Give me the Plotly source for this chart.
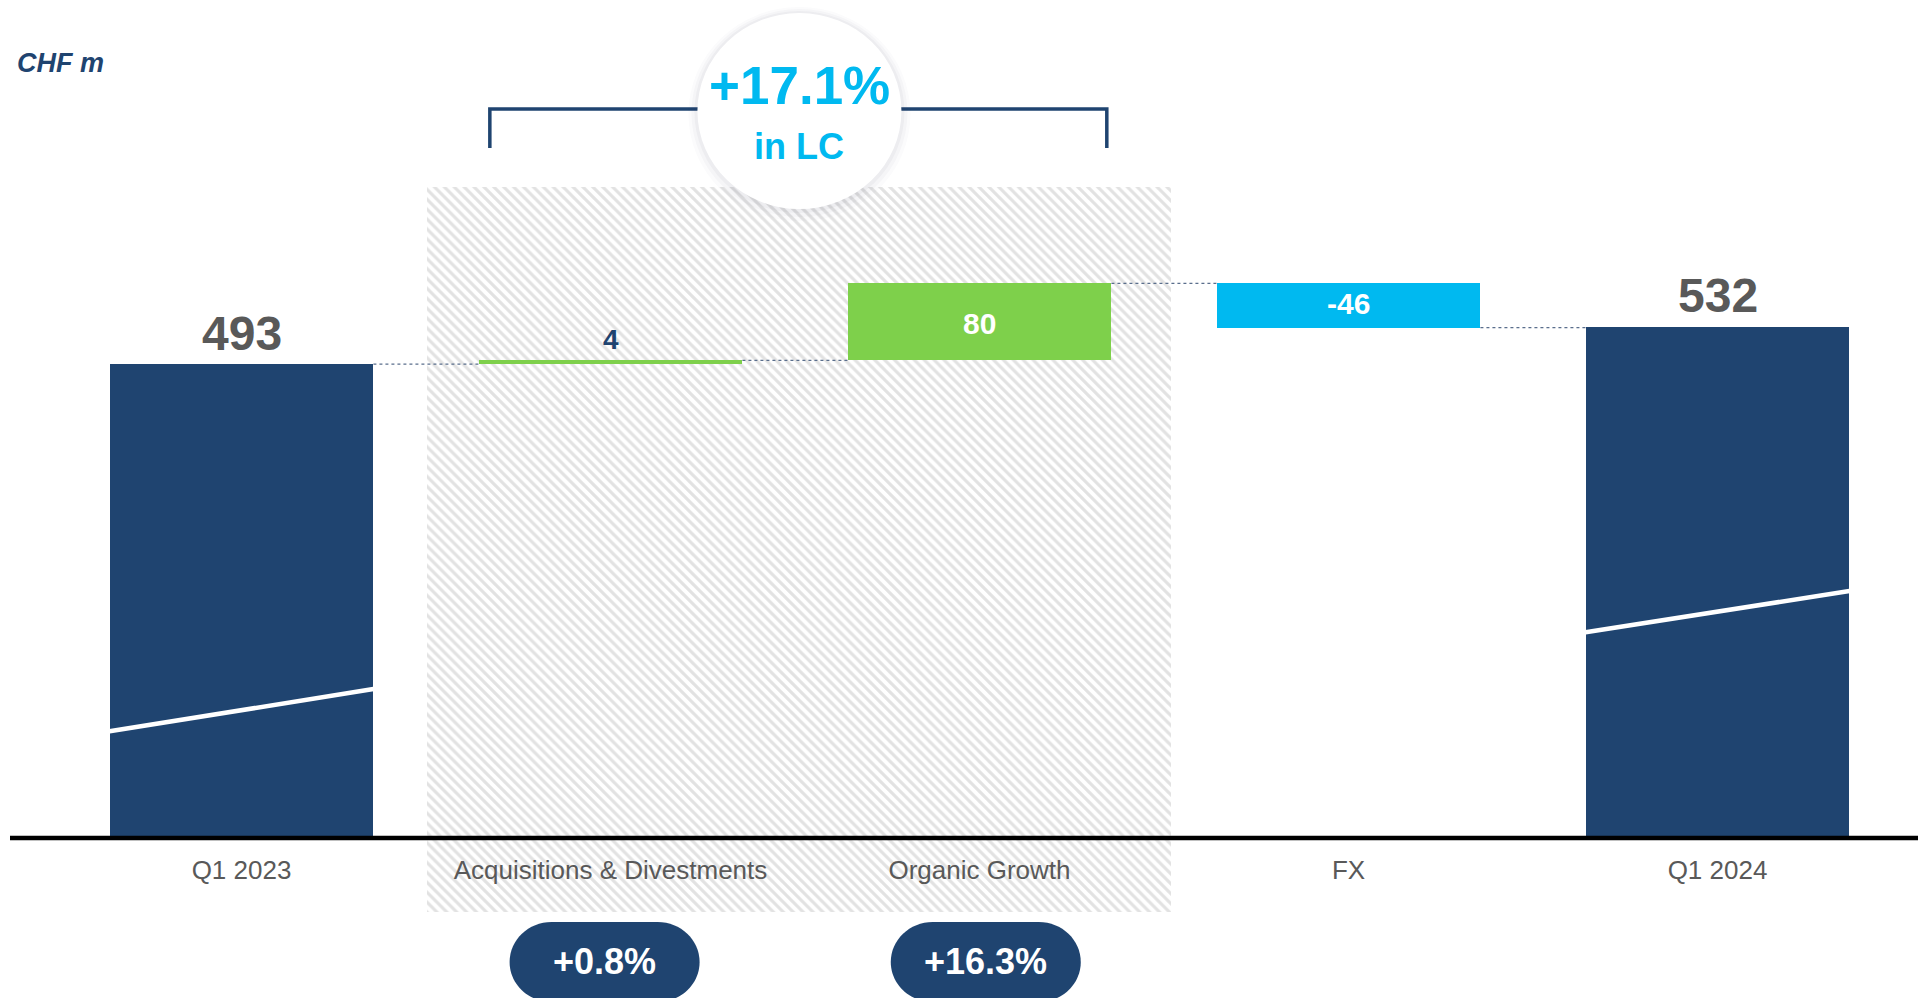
import plotly.graph_objects as go

# ---------------- data ----------------
categories = ["Q1 2023", "Acquisitions & Divestments", "Organic Growth", "FX", "Q1 2024"]
values = [493, 4, 80, -46, 532]
measures = ["absolute", "relative", "relative", "relative", "total"]
value_labels = ["493", "4", "80", "-46", "532"]
lc_growth_label = "+17.1%"
lc_growth_sub = "in LC"
component_pct = ["+0.8%", "+16.3%"]          # under categories 1 and 2
trend_left = [111, 214]                      # white line inside total bars (left edge)
trend_right = [155, 257]                     # white line inside total bars (right edge)
unit_label = "CHF m"

# ---------------- style ----------------
NAVY = "#1F4470"
GREEN = "#7ED04B"
CYAN = "#00B9F0"
GRAY_TXT = "#595959"
FONT = "Liberation Sans"
W, H = 1918, 998
BAR_W = 0.715

# ---------------- waterfall geometry from data ----------------
bases, heights, colors = [], [], []
running = 0
for v, m in zip(values, measures):
    if m in ("absolute", "total"):
        bases.append(0); heights.append(v); running = v
    else:
        bases.append(running); heights.append(v); running += v
for v, m in zip(values, measures):
    if m in ("absolute", "total"):
        colors.append(NAVY)
    else:
        colors.append(GREEN if v >= 0 else CYAN)
levels = [b + h for b, h in zip(bases, heights)]  # end level of each bar
xs = list(range(len(categories)))

fig = go.Figure()

# hatched "in LC" region behind categories 1 and 2
fig.add_trace(go.Bar(
    x=[(xs[1] + xs[2]) / 2 + 0.011], y=[754], base=[-77], width=[2.014],
    marker=dict(color="white", line=dict(width=0),
                pattern=dict(shape="\\", size=7, solidity=0.45,
                             fgcolor="#C6C6C6", bgcolor="white")),
    hoverinfo="skip", showlegend=False))

# waterfall bars
fig.add_trace(go.Bar(
    x=xs, y=heights, base=bases, width=BAR_W,
    marker=dict(color=colors, line=dict(width=0)),
    hoverinfo="skip", showlegend=False))

# dotted connectors
cx, cy = [], []
for i in range(len(xs) - 1):
    cx += [xs[i] + BAR_W / 2, xs[i + 1] - BAR_W / 2, None]
    cy += [levels[i], levels[i], None]
fig.add_trace(go.Scatter(x=cx, y=cy, mode="lines",
                         line=dict(color="#5A6E8C", width=1.3, dash="dot"),
                         hoverinfo="skip", showlegend=False))

shapes = []
# axis baseline
shapes.append(dict(type="line", xref="paper", yref="y", x0=10 / W, x1=1, y0=0, y1=0,
                   line=dict(color="black", width=4.5)))
# white trend lines inside total bars
for idx, yl, yr in zip([0, 4], trend_left, trend_right):
    shapes.append(dict(type="line", xref="x", yref="y",
                       x0=xs[idx] - BAR_W / 2, x1=xs[idx] + BAR_W / 2, y0=yl, y1=yr,
                       line=dict(color="white", width=4.5)))
# bracket over the LC components
bx0, bx1, by_top, by_bot = 0.673, 2.345, 758.5, 718
shapes.append(dict(type="path", xref="x", yref="y",
                   path=f"M {bx0},{by_bot} L {bx0},{by_top} L {bx1},{by_top} L {bx1},{by_bot}",
                   line=dict(color=NAVY, width=3.5)))
# circle with soft shadow
ccx, ccy = 1.512, 756.4
for r_add, op, dy in [(9, 0.018, -3), (6, 0.03, -2), (3, 0.045, -1)]:
    shapes.append(dict(type="circle", xref="x", yref="y", xsizemode="pixel", ysizemode="pixel",
                       xanchor=ccx, yanchor=ccy,
                       x0=-102 - r_add, x1=102 + r_add, y0=-98 - r_add + dy, y1=98 + r_add + dy,
                       fillcolor=f"rgba(60,70,90,{op})", line=dict(width=0)))
shapes.append(dict(type="circle", xref="x", yref="y", xsizemode="pixel", ysizemode="pixel",
                   xanchor=ccx, yanchor=ccy, x0=-102, x1=102, y0=-98, y1=98,
                   fillcolor="white", line=dict(width=0)))


# pills (stadium shapes)
def stadium(half_w, half_h, rx):
    k = 0.5523
    a = half_w - rx
    r = half_h
    p = f"M {-a},{-r} L {a},{-r} "
    p += f"C {a + k * rx},{-r} {a + rx},{-k * r} {a + rx},0 "
    p += f"C {a + rx},{k * r} {a + k * rx},{r} {a},{r} "
    p += f"L {-a},{r} "
    p += f"C {-a - k * rx},{r} {-a - rx},{k * r} {-a - rx},0 "
    p += f"C {-a - rx},{-k * r} {-a - k * rx},{-r} {-a},{-r} Z"
    return p


pill_y = -129
pill_x = [xs[1] - 0.016, xs[2] + 0.017]
for px in pill_x:
    shapes.append(dict(type="path", xref="x", yref="y", xsizemode="pixel", ysizemode="pixel",
                       xanchor=px, yanchor=pill_y, path=stadium(95, 40, 42),
                       fillcolor=NAVY, line=dict(width=0)))

annotations = []
# value labels
label_cfg = [
    dict(pos="above", color=GRAY_TXT, size=48, shift=31),
    dict(pos="above", color=NAVY, size=28, shift=21),
    dict(pos="mid", color="white", size=30, shift=-2),
    dict(pos="mid", color="white", size=30, shift=2),
    dict(pos="above", color=GRAY_TXT, size=48, shift=31),
]
for i, (lab, cfg) in enumerate(zip(value_labels, label_cfg)):
    top = max(bases[i], levels[i])
    yv = top if cfg["pos"] == "above" else (bases[i] + levels[i]) / 2
    annotations.append(dict(x=xs[i], y=yv, xref="x", yref="y", text=f"<b>{lab}</b>",
                            showarrow=False, yanchor="middle", yshift=cfg["shift"],
                            font=dict(family=FONT, size=cfg["size"], color=cfg["color"])))
# pill labels
for px, lab in zip(pill_x, component_pct):
    annotations.append(dict(x=px, y=pill_y, xref="x", yref="y", text=f"<b>{lab}</b>",
                            showarrow=False, yanchor="middle",
                            font=dict(family=FONT, size=36, color="white")))
# circle labels
annotations.append(dict(x=ccx, y=ccy, xref="x", yref="y", text=f"<b>{lc_growth_label}</b>",
                        showarrow=False, yanchor="middle", yshift=26,
                        font=dict(family=FONT, size=53, color=CYAN)))
annotations.append(dict(x=ccx, y=ccy, xref="x", yref="y", text=f"<b>{lc_growth_sub}</b>",
                        showarrow=False, yanchor="middle", yshift=-35,
                        font=dict(family=FONT, size=36, color=CYAN)))
# unit label
annotations.append(dict(x=15 / W, y=1 - 63 / H, xref="paper", yref="paper",
                        text=f"<b><i>{unit_label}</i></b>", showarrow=False,
                        xanchor="left", yanchor="middle",
                        font=dict(family=FONT, size=27, color=NAVY)))

px_per_unit = 0.9611
y0_pix = 838
x0_pix = 241.5
y_range = [-(H - y0_pix) / px_per_unit, y0_pix / px_per_unit]
x_range = [-x0_pix / 369, (W - x0_pix) / 369]

fig.update_layout(
    width=W, height=H,
    margin=dict(l=0, r=0, t=0, b=0),
    paper_bgcolor="white", plot_bgcolor="white",
    barmode="overlay", bargap=0,
    showlegend=False,
    shapes=shapes, annotations=annotations,
    xaxis=dict(range=x_range, domain=[0, 1], anchor="free", position=(H - y0_pix) / H,
               tickmode="array", tickvals=xs, ticktext=categories,
               tickfont=dict(family=FONT, size=26, color=GRAY_TXT),
               ticks="outside", ticklen=9, tickcolor="rgba(0,0,0,0)",
               showgrid=False, zeroline=False, showline=False, fixedrange=True),
    yaxis=dict(range=y_range, domain=[0, 1], visible=False, showgrid=False,
               zeroline=False, fixedrange=True),
)

fig.write_html("out.html", config={"displayModeBar": False},
               post_script="document.body.style.margin='0';document.body.style.overflow='hidden';")
